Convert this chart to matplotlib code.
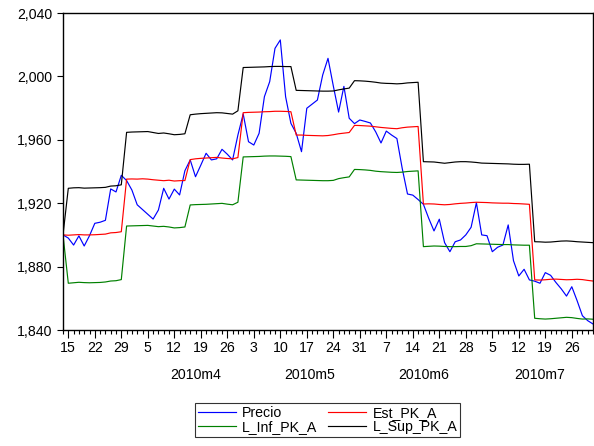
import numpy as np
import pandas as pd
import matplotlib
matplotlib.use("Agg")
import matplotlib.pyplot as plt
from matplotlib.transforms import blended_transform_factory

plt.rcParams['font.family'] = ['Liberation Sans', 'DejaVu Sans']

# ---------------- data ----------------
dates = pd.bdate_range('2010-03-12', '2010-07-30')

precio = [1900.0, 1898.0, 1893.6, 1899.4, 1893.0, 1899.5, 1907.3, 1908.0, 1909.2, 1929.0,
          1927.1, 1937.6, 1934.3, 1928.3, 1919.0, 1916.0, 1913.0, 1910.0, 1915.7, 1929.4,
          1922.6, 1928.9, 1925.2, 1940.5, 1947.3, 1936.7, 1944.0, 1951.5, 1947.3, 1948.0,
          1954.0, 1950.9, 1947.3, 1963.0, 1976.3, 1958.8, 1956.7, 1964.1, 1987.2, 1996.7,
          2017.7, 2023.0, 1987.2, 1970.4, 1964.1, 1952.5, 1979.9, 1982.5, 1985.1, 2000.9,
          2011.4, 1994.0, 1977.5, 1993.7, 1973.6, 1970.2, 1972.5, 1971.6, 1970.6, 1965.0,
          1958.0, 1965.5, 1963.0, 1960.8, 1942.0, 1925.8, 1925.1, 1922.3, 1919.3, 1910.5,
          1902.5, 1909.9, 1895.1, 1889.4, 1895.7, 1896.8, 1900.0, 1904.8, 1920.3, 1900.0,
          1899.5, 1889.4, 1892.2, 1893.6, 1906.3, 1883.7, 1874.1, 1878.3, 1871.6, 1870.8,
          1869.5, 1876.2, 1874.5, 1870.0, 1866.0, 1861.4, 1867.3, 1858.5, 1849.0, 1845.9,
          1843.8]

est_pk_a = [1900.0,
            1899.8, 1900.0, 1900.2, 1900.0, 1900.0, 1900.1, 1900.3, 1900.5, 1901.3, 1901.5, 1902.0,
            1935.2, 1935.3, 1935.2, 1935.4, 1935.2, 1934.8, 1934.5, 1934.2, 1934.5, 1934.0, 1934.2, 1934.3,
            1947.5, 1948.0, 1948.3, 1948.5, 1948.7, 1948.9, 1948.5, 1948.2, 1948.0, 1948.8,
            1977.1, 1977.3, 1977.4, 1977.5, 1977.7, 1977.8, 1978.0, 1978.0, 1977.9, 1977.7,
            1963.0, 1963.0, 1962.8, 1962.7, 1962.6, 1962.5, 1962.7, 1963.2, 1963.8, 1964.2, 1964.6,
            1969.1, 1969.0, 1968.8, 1968.6, 1968.2, 1967.8, 1967.5, 1967.2, 1967.0, 1967.6, 1968.0, 1968.2, 1968.4,
            1919.5, 1919.6, 1919.5, 1919.2, 1919.0, 1919.2, 1919.6, 1919.9, 1920.1, 1920.4, 1920.6,
            1920.5, 1920.4, 1920.2, 1920.1, 1920.0, 1920.0, 1919.8, 1919.7, 1919.5, 1919.3,
            1871.6, 1871.5, 1871.7, 1872.0, 1872.1, 1871.9, 1871.7, 1871.8, 1872.0, 1871.8, 1871.3, 1870.9]

l_inf_pk_a = [1900.0,
              1869.5, 1869.8, 1870.1, 1869.9, 1869.8, 1869.9, 1870.0, 1870.3, 1870.9, 1871.1, 1871.8,
              1905.6, 1905.7, 1905.8, 1905.9, 1906.0, 1905.6, 1905.2, 1905.4, 1905.0, 1904.4, 1904.6, 1905.0,
              1918.9, 1919.1, 1919.2, 1919.3, 1919.5, 1919.7, 1919.9, 1919.4, 1919.0, 1920.6,
              1949.2, 1949.3, 1949.4, 1949.5, 1949.7, 1949.8, 1949.8, 1949.7, 1949.6, 1949.4,
              1934.7, 1934.6, 1934.5, 1934.4, 1934.3, 1934.2, 1934.2, 1934.4, 1935.5, 1936.1, 1936.6,
              1941.3, 1941.2, 1941.0, 1940.7, 1940.2, 1939.9, 1939.7, 1939.5, 1939.4, 1939.6, 1940.0, 1940.2, 1940.4,
              1892.6, 1892.8, 1893.0, 1892.9, 1892.7, 1892.6, 1892.6, 1892.7, 1892.7, 1893.2, 1894.4,
              1894.3, 1894.2, 1894.1, 1894.0, 1893.9, 1893.9, 1893.7, 1893.6, 1893.5, 1893.5,
              1847.4, 1847.1, 1846.9, 1847.1, 1847.4, 1847.7, 1848.0, 1847.8, 1847.3, 1846.9, 1847.0, 1846.8]

l_sup_pk_a = [1900.0,
              1929.4, 1929.7, 1929.8, 1929.5, 1929.6, 1929.7, 1929.8, 1930.0, 1930.8, 1931.0, 1931.6,
              1964.7, 1964.9, 1965.0, 1965.1, 1965.2, 1964.6, 1964.0, 1964.3, 1963.8, 1963.2, 1963.4, 1963.8,
              1975.8, 1976.2, 1976.5, 1976.7, 1976.9, 1977.1, 1977.0, 1976.6, 1976.2, 1978.3,
              2005.6, 2005.7, 2005.8, 2005.9, 2006.0, 2006.2, 2006.3, 2006.3, 2006.2, 2006.2,
              1991.2, 1991.1, 1991.0, 1990.9, 1990.8, 1990.7, 1990.7, 1990.8, 1991.5, 1992.1, 1992.6,
              1997.3, 1997.2, 1997.0, 1996.7, 1996.3, 1995.8, 1995.6, 1995.5, 1995.3, 1995.5, 1995.9, 1996.1, 1996.3,
              1946.2, 1946.1, 1946.0, 1945.6, 1945.2, 1945.6, 1946.0, 1946.2, 1946.2, 1946.0, 1945.7,
              1945.3, 1945.2, 1945.1, 1945.0, 1944.9, 1944.8, 1944.6, 1944.5, 1944.5, 1944.6,
              1895.7, 1895.6, 1895.4, 1895.5, 1895.8, 1896.1, 1896.2, 1896.0, 1895.7, 1895.5, 1895.3, 1895.1]

series_names = ['Precio', 'Est_PK_A', 'L_Inf_PK_A', 'L_Sup_PK_A']
month_labels = ['2010m4', '2010m5', '2010m6', '2010m7']
month_numbers = [4, 5, 6, 7]
y_ticks = [1840, 1880, 1920, 1960, 2000, 2040]

# ---------------- figure ----------------
W, H = 594, 446
FS = 10.2
fig = plt.figure(figsize=(W / 100, H / 100), dpi=100)
ax = fig.add_axes([63 / W, 1 - 330 / H, 530 / W, 317 / H])

x = np.arange(len(dates))
lw = 0.85
colors = ['#0000ff', '#ff0000', '#008000', '#000000']
series = [precio, est_pk_a, l_inf_pk_a, l_sup_pk_a]
lines = []
for s, c, name in zip(series, colors, series_names):
    ln, = ax.plot(x, s, color=c, lw=lw, label=name)
    lines.append(ln)

ax.set_xlim(0, len(dates) - 1)
ax.set_ylim(y_ticks[0], y_ticks[-1])

for sp in ax.spines.values():
    sp.set_linewidth(1.0)
    sp.set_color('black')

ax.set_yticks(y_ticks)
ax.set_yticklabels([f"{v:,}" for v in y_ticks])
ax.tick_params(axis='y', direction='out', length=4.5, width=0.8, labelsize=FS, pad=3,
               right=False)

mondays = [i for i, d in enumerate(dates) if d.weekday() == 0]
ax.set_xticks(mondays)
ax.set_xticklabels([str(dates[i].day) for i in mondays])
ax.set_xticks(x, minor=True)
ax.tick_params(axis='x', which='major', direction='out', length=5.5, width=0.8,
               labelsize=FS, pad=2.5, top=False)
ax.tick_params(axis='x', which='minor', direction='out', length=3.2, width=0.8, top=False)

# month labels centred on each month's span
trans = blended_transform_factory(ax.transData, ax.transAxes)
months = np.array([d.month for d in dates])
for lab, m in zip(month_labels, month_numbers):
    idx = np.where(months == m)[0]
    start = idx[0]
    end = idx[-1] + 1
    ax.text((start + end) / 2, -0.142, lab, transform=trans, ha='center', va='center',
            fontsize=FS)

# legend (row-wise order like the original)
order = [0, 2, 1, 3]
leg = fig.legend([lines[i] for i in order], [series_names[i] for i in order], ncol=2,
                 loc='center', bbox_to_anchor=(327.5 / W, 1 - 420 / H), fontsize=FS,
                 frameon=True, fancybox=False, shadow=False, edgecolor='black',
                 handlelength=2.7, handletextpad=0.45, columnspacing=0.75,
                 labelspacing=0.0, borderpad=0.2, borderaxespad=0)
leg.get_frame().set_linewidth(0.8)

fig.savefig('out.png', dpi=100)
